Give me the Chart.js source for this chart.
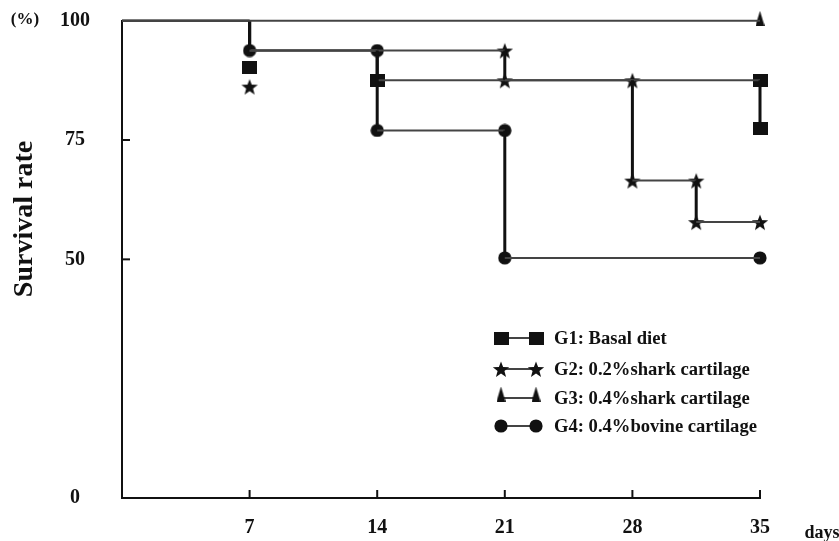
<!DOCTYPE html>
<html>
<head>
<meta charset="utf-8">
<script src="https://cdn.jsdelivr.net/npm/chart.js@4.4.1/dist/chart.umd.min.js"></script>
<style>
  html, body { margin: 0; padding: 0; background: #fff; }
  #wrap { width: 839px; height: 541px; }
</style>
</head>
<body>
<div id="wrap"><canvas id="c" width="839" height="541"></canvas></div>
<script>
// ---------- data ----------
const xTickValues = [7, 14, 21, 28, 35];
const yTickValues = [0, 50, 75, 100];
const legendLabels = ['G1: Basal diet', 'G2: 0.2%shark cartilage', 'G3: 0.4%shark cartilage', 'G4: 0.4%bovine cartilage'];

const g1Days = [0, 7, 7, 14, 14, 35, 35];
const g1Surv = [100, 100, 93.75, 93.75, 87.5, 87.5, 77.5];
const g1MarkDays = [7, 14, 35, 35];
const g1MarkSurv = [90.2, 87.5, 87.5, 77.5];

const g2Days = [0, 7, 7, 21, 21, 28, 28, 31.5, 31.5, 35];
const g2Surv = [100, 100, 93.75, 93.75, 87.5, 87.5, 66.5, 66.5, 57.8, 57.8];
const g2MarkDays = [7, 21, 21, 28, 28, 31.5, 31.5, 35];
const g2MarkSurv = [86.2, 93.75, 87.5, 87.5, 66.5, 66.5, 57.8, 57.8];

const g3Days = [0, 35];
const g3Surv = [100, 100];
const g3MarkDays = [35];
const g3MarkSurv = [100.5];

const g4Days = [0, 7, 7, 14, 14, 21, 21, 35];
const g4Surv = [100, 100, 93.75, 93.75, 77, 77, 50.3, 50.3];
const g4MarkDays = [7, 14, 14, 21, 21, 35];
const g4MarkSurv = [93.75, 93.75, 77, 77, 50.3, 50.3];

// ---------- marker images ----------
function makeCanvas(w, h, draw) {
  const c = document.createElement('canvas');
  c.width = w; c.height = h;
  const x = c.getContext('2d');
  x.fillStyle = '#111';
  draw(x, w, h);
  return c;
}
const squareImg = makeCanvas(15, 13, (x, w, h) => { x.fillRect(0, 0, w, h); });
const starImg = makeCanvas(18, 18, (x, w, h) => {
  const cx = w / 2, cy = h / 2 + 1, R = 8.6, r = 3.6;
  x.beginPath();
  for (let i = 0; i < 10; i++) {
    const a = -Math.PI / 2 + i * Math.PI / 5;
    const rr = i % 2 === 0 ? R : r;
    const px = cx + rr * Math.cos(a), py = cy + rr * Math.sin(a);
    if (i === 0) x.moveTo(px, py); else x.lineTo(px, py);
  }
  x.closePath(); x.fill();
});
const triImg = makeCanvas(9, 15, (x, w, h) => {
  x.beginPath(); x.moveTo(w / 2, 0); x.lineTo(w, h); x.lineTo(0, h); x.closePath(); x.fill();
});
const circleImg = makeCanvas(14, 14, (x, w, h) => {
  x.beginPath(); x.arc(w / 2, h / 2, 6.6, 0, Math.PI * 2); x.fill();
});
const markerImgs = [squareImg, starImg, triImg, circleImg];

// ---------- datasets ----------
function pts(xs, ys) { return xs.map((d, i) => ({ x: d, y: ys[i] })); }
const segStyle = {
  borderWidth: c => (c.p0.parsed.x === c.p1.parsed.x ? 3 : 2),
  borderColor: c => (c.p0.parsed.x === c.p1.parsed.x ? '#111' : '#444')
};
function lineDs(xs, ys) {
  return { data: pts(xs, ys), showLine: true, borderColor: '#444', borderWidth: 2,
           pointRadius: 0, pointHoverRadius: 0, segment: segStyle, clip: false };
}
function markDs(xs, ys, img) {
  return { data: pts(xs, ys), showLine: false, pointStyle: img, pointRadius: 8,
           pointHoverRadius: 8, clip: false };
}
const datasets = [
  lineDs(g3Days, g3Surv),
  lineDs(g4Days, g4Surv),
  lineDs(g2Days, g2Surv),
  lineDs(g1Days, g1Surv),
  markDs(g1MarkDays, g1MarkSurv, squareImg),
  markDs(g2MarkDays, g2MarkSurv, starImg),
  markDs(g3MarkDays, g3MarkSurv, triImg),
  markDs(g4MarkDays, g4MarkSurv, circleImg)
];

const SERIF = '"Liberation Serif", "Times New Roman", serif';

// ---------- plugin: inner ticks, titles, legend ----------
const decor = {
  id: 'decor',
  afterDraw(chart) {
    const ctx = chart.ctx;
    const xs = chart.scales.x, ys = chart.scales.y;
    const area = chart.chartArea;
    ctx.save();
    ctx.strokeStyle = '#111';
    ctx.lineWidth = 2;
    // inward tick marks
    yTickValues.forEach(v => {
      if (v === 0 || v === 100) return;
      const py = ys.getPixelForValue(v);
      ctx.beginPath(); ctx.moveTo(area.left, py); ctx.lineTo(area.left + 8, py); ctx.stroke();
    });
    xTickValues.forEach(v => {
      const px = xs.getPixelForValue(v);
      ctx.beginPath(); ctx.moveTo(px, area.bottom); ctx.lineTo(px, area.bottom - 8); ctx.stroke();
    });
    // texts
    ctx.fillStyle = '#111';
    ctx.textAlign = 'center';
    ctx.textBaseline = 'middle';
    ctx.font = 'bold 17px ' + SERIF;
    ctx.fillText('(%)', 25, 20);
    ctx.font = 'bold 18px ' + SERIF;
    ctx.fillText('days', 822, 533);
    ctx.save();
    ctx.translate(25, 219);
    ctx.rotate(-Math.PI / 2);
    ctx.font = 'bold 28px ' + SERIF;
    ctx.fillText('Survival rate', 0, 0);
    ctx.restore();
    // legend
    const rowsY = [338, 369, 398, 426];
    const lx1 = 501, lx2 = 536, tx = 554;
    legendLabels.forEach((lab, i) => {
      const y = rowsY[i];
      ctx.strokeStyle = '#444';
      ctx.lineWidth = 2;
      ctx.beginPath(); ctx.moveTo(lx1, y); ctx.lineTo(lx2, y); ctx.stroke();
      const img = markerImgs[i];
      const dy = i === 2 ? -4 : 0;
      ctx.drawImage(img, lx1 - img.width / 2, y - img.height / 2 + dy);
      ctx.drawImage(img, lx2 - img.width / 2, y - img.height / 2 + dy);
      ctx.fillStyle = '#111';
      ctx.textAlign = 'left';
      ctx.font = 'bold 18.6px ' + SERIF;
      ctx.fillText(lab, tx, y + 1);
    });
    ctx.restore();
  }
};

new Chart(document.getElementById('c'), {
  type: 'scatter',
  data: { datasets },
  options: {
    responsive: false,
    devicePixelRatio: 1,
    animation: false,
    events: [],
    layout: { padding: { top: 20.7, right: 79, left: 0, bottom: 0 } },
    plugins: { legend: { display: false }, tooltip: { enabled: false } },
    scales: {
      x: {
        type: 'linear', min: 0, max: 35,
        afterBuildTicks: s => { s.ticks = xTickValues.map(v => ({ value: v })); },
        afterFit: s => { s.height = 43; s.paddingLeft = 0; s.paddingRight = 0; },
        grid: { display: false, drawTicks: false },
        border: { display: true, color: '#111', width: 2 },
        ticks: { color: '#111', padding: 18, maxRotation: 0,
                 font: { family: SERIF, weight: 'bold', size: 20 } }
      },
      y: {
        type: 'linear', min: 0, max: 100,
        afterBuildTicks: s => { s.ticks = yTickValues.map(v => ({ value: v })); },
        afterFit: s => { s.width = 122; s.paddingTop = 0; s.paddingBottom = 0; },
        grid: { display: false, drawTicks: false },
        border: { display: true, color: '#111', width: 2 },
        ticks: { color: '#111', padding: 32, crossAlign: 'center',
                 font: { family: SERIF, weight: 'bold', size: 20 } }
      }
    }
  },
  plugins: [decor]
});
</script>
</body>
</html>
